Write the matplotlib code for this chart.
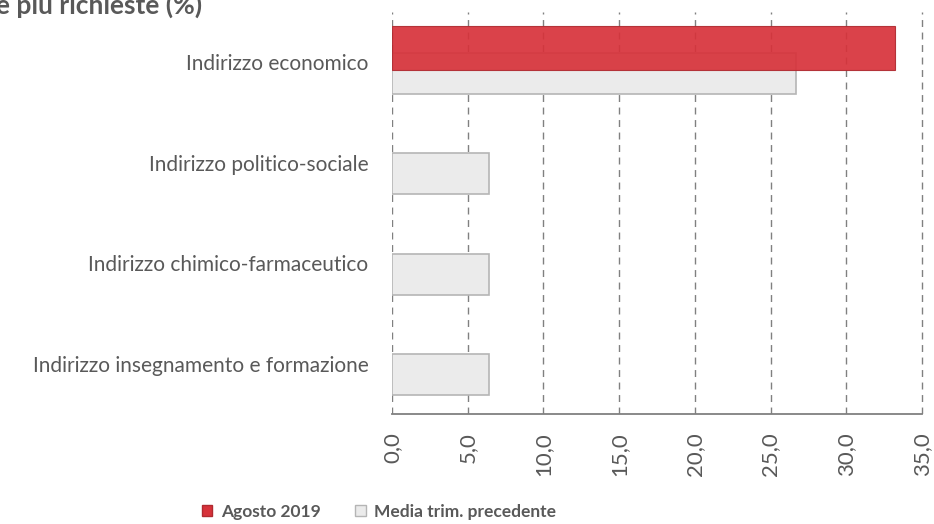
import numpy as np
import matplotlib
matplotlib.use("Agg")
import matplotlib.pyplot as plt
from matplotlib.patches import Patch

plt.rcParams['font.family'] = ['Lato', 'DejaVu Sans']

# dati
categorie = ['Indirizzo economico', 'Indirizzo politico-sociale',
             'Indirizzo chimico-farmaceutico', 'Indirizzo insegnamento e formazione']
agosto_2019 = [33.2, 0.0, 0.0, 0.0]
media_trim = [26.7, 6.4, 6.4, 6.4]
tick_valori = [0, 5, 10, 15, 20, 25, 30, 35]
tick_etichette = ['0,0', '5,0', '10,0', '15,0', '20,0', '25,0', '30,0', '35,0']

TESTO = '#595959'
ROSSO = '#d7323a'
GRIGIO = '#ebebeb'

# un filo oltre 35 perche' la griglia a 35 non venga tagliata
X_MAX = 35.15
larghezza = 530 / 35 * X_MAX

fig = plt.figure(figsize=(9.34, 5.24), dpi=100)
ax = fig.add_axes([392 / 934, 1 - 414 / 524, larghezza / 934, 402 / 524])

y = np.arange(len(categorie))

# barre grigie (sotto), rosse sopra leggermente trasparenti
ax.barh(y + 0.11, media_trim, height=0.41, color=GRIGIO, edgecolor='#b5b5b5',
        linewidth=1.2, zorder=2)
# niente bordo per i valori nulli
bordi_rossi = [0.8 if v > 0 else 0 for v in agosto_2019]
ax.barh(y - 0.14, agosto_2019, height=0.44, color=ROSSO, alpha=0.92,
        edgecolor='#b02a30', linewidth=bordi_rossi, zorder=3)

ax.set_xlim(0, X_MAX)
ax.set_ylim(3.5, -0.5)
ax.set_xticks(tick_valori)
ax.set_xticklabels(tick_etichette, rotation=90, fontsize=16, color=TESTO)
ax.set_yticks(y)
ax.set_yticklabels(categorie, fontsize=15, color=TESTO)
ax.tick_params(axis='both', length=0)
ax.tick_params(axis='x', pad=13)
ax.tick_params(axis='y', pad=17)

ax.grid(axis='x', color='#808080', linestyle=(0, (5, 4)), linewidth=1.0, zorder=1)
for s in ['top', 'right', 'left']:
    ax.spines[s].set_visible(False)
ax.spines['bottom'].set_color('#808080')
ax.spines['bottom'].set_linewidth(1.3)
ax.spines['bottom'].set_bounds(0, 35)

fig.text(-0.004, 1 - 14 / 524, 'e più richieste (%)', fontsize=19, fontweight='bold',
         color=TESTO, ha='left', va='baseline')

maniglie = [Patch(facecolor=ROSSO, edgecolor='#b02a30'),
            Patch(facecolor=GRIGIO, edgecolor='#b5b5b5')]
fig.legend(maniglie, ['Agosto 2019', 'Media trim. precedente'], loc='center',
           bbox_to_anchor=(379 / 934, 1 - 512 / 524), ncol=2, frameon=False,
           prop={'weight': 'bold', 'size': 12.5}, labelcolor=TESTO,
           handlelength=0.6, handleheight=0.6, handletextpad=0.5, columnspacing=2.0)

fig.savefig('out.png', dpi=100)
